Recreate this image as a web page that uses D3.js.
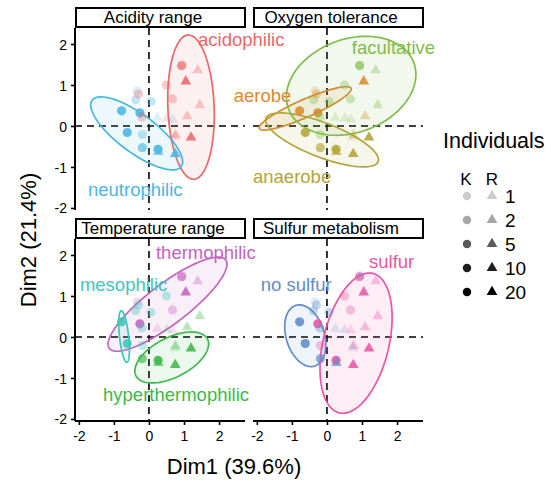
<!DOCTYPE html>
<html>
<head>
<meta charset="utf-8">
<script src="https://cdn.jsdelivr.net/npm/d3@7"></script>
<style>
  body { margin: 0; background: #fff; }
  svg { font-family: "Liberation Sans", Arial, Helvetica, sans-serif; }
</style>
</head>
<body>
<svg id="chart" width="551" height="483"></svg>
<script>
// species coordinates on the first two PCA dimensions
var dim1 = [0.93, 1.39, 1.05, 0.50, 0.67, 1.45, 1.09, 0.24, 0.51, 0.68, 0.76, 0.74, 1.20, 0.75,
  0.26, 0.27, -0.19, -0.19, -0.62, -0.78, -0.26, -0.20, 0.06, -0.38, -0.34, -0.30, 0.95];
var dim2 = [1.47, 1.36, 1.09, 1.00, 0.66, 0.51, 0.24, 0.20, 0.18, 0.16, -0.22, -0.27, -0.28, -0.68,
  -0.57, -0.63, -0.53, -0.21, -0.16, 0.37, 0.32, 0.22, 0.60, 0.64, 0.86, 0.78, 1.50];
var strategy = ['K', 'R', 'R', 'K', 'K', 'R', 'R', 'R', 'R', 'R', 'R', 'R', 'R', 'R',
  'K', 'R', 'K', 'K', 'K', 'K', 'K', 'K', 'K', 'K', 'K', 'K', 'K'];
var individuals = [5, 2, 10, 2, 2, 2, 2, 1, 1, 1, 2, 1, 10, 10, 10, 5, 5, 2, 10, 10, 10, 2, 2, 2, 1, 2, 1];

// group of each species in every facet
var acidity = ['acidophilic', 'acidophilic', 'acidophilic', 'acidophilic', 'acidophilic', 'acidophilic',
  'acidophilic', 'neutrophilic', 'acidophilic', 'neutrophilic', 'acidophilic', 'acidophilic', 'acidophilic',
  'neutrophilic', 'neutrophilic', 'neutrophilic', 'neutrophilic', 'neutrophilic', 'neutrophilic',
  'neutrophilic', 'neutrophilic', 'acidophilic', 'neutrophilic', 'neutrophilic', 'neutrophilic',
  'acidophilic', 'acidophilic'];
var oxygen = ['facultative', 'facultative', 'aerobe', 'facultative', 'facultative', 'facultative', 'aerobe',
  'facultative', 'facultative', 'facultative', 'anaerobe', 'anaerobe', 'anaerobe', 'anaerobe', 'anaerobe',
  'anaerobe', 'anaerobe', 'facultative', 'anaerobe', 'aerobe', 'aerobe', 'facultative', 'facultative',
  'facultative', 'aerobe', 'aerobe', 'facultative'];
var temperature = ['thermophilic', 'thermophilic', 'thermophilic', 'mesophilic', 'thermophilic',
  'hyperthermophilic', 'hyperthermophilic', 'thermophilic', 'hyperthermophilic', 'thermophilic',
  'hyperthermophilic', 'hyperthermophilic', 'hyperthermophilic', 'hyperthermophilic', 'hyperthermophilic',
  'hyperthermophilic', 'hyperthermophilic', 'mesophilic', 'mesophilic', 'mesophilic', 'thermophilic',
  'mesophilic', 'mesophilic', 'mesophilic', 'thermophilic', 'mesophilic', 'thermophilic'];
var sulfur = ['sulfur', 'sulfur', 'sulfur', 'sulfur', 'sulfur', 'sulfur', 'sulfur', 'no sulfur', 'no sulfur',
  'sulfur', 'sulfur', 'no sulfur', 'sulfur', 'sulfur', 'sulfur', 'no sulfur', 'no sulfur', 'sulfur',
  'no sulfur', 'no sulfur', 'sulfur', 'no sulfur', 'no sulfur', 'no sulfur', 'no sulfur', 'no sulfur',
  'no sulfur'];

var facetTitles = ['Acidity range', 'Oxygen tolerance', 'Temperature range', 'Sulfur metabolism'];

var groupNames = ['acidophilic', 'neutrophilic', 'aerobe', 'anaerobe', 'facultative',
  'thermophilic', 'mesophilic', 'hyperthermophilic', 'no sulfur', 'sulfur'];
var groupFacet = [0, 0, 1, 1, 1, 2, 2, 2, 3, 3];
var groupColors = ['#E8676B', '#4AB6E0', '#DA8A2E', '#B3A43A', '#80BC4A',
  '#C264BD', '#3FC6BA', '#3DB84A', '#5F8BCB', '#E955A5'];

// confidence ellipses: centre and two conjugate semi-axes, in Dim units
var ellipseCx = [1.20, -0.35, -0.62, -0.14, 0.69, 0.53, -0.71, 0.65, -0.62, 0.83];
var ellipseCy = [0.46, -0.18, 0.43, -0.34, 0.98, 0.80, 0.01, -0.50, 0.03, -0.15];
var ellipseUx = [0.08, 1.27, 1.31, 1.60, 1.79, 1.66, 0.08, 1.02, 0.27, -0.48];
var ellipseUy = [-1.76, -0.81, 0.49, -0.53, 0.56, 1.08, -0.63, 0.45, -0.74, -1.70];
var ellipseVx = [0.66, -0.33, 0.10, -0.18, 0.46, 0.35, -0.13, 0.26, -0.52, 0.91];
var ellipseVy = [0.02, -0.37, -0.20, -0.39, -1.07, -0.39, -0.01, -0.43, -0.14, -0.19];

// where each group name is written (left end of the text, in Dim units)
var labelX = [1.40, -1.74, -2.66, -2.11, 0.71, 0.20, -1.97, -1.31, -1.89, 1.20];
var labelY = [1.95, -1.71, 0.59, -1.39, 1.76, 1.90, 1.12, -1.56, 1.12, 1.68];

var xTicks = [-2, -1, 0, 1, 2];
var yTicks = [-2, -1, 0, 1, 2];
var legendLevels = [1, 2, 5, 10, 20];
var legendShapes = ['K', 'R'];

var facetGroups = [acidity, oxygen, temperature, sulfur];

var svg = d3.select('#chart');

var panelLeft = 75, panelTop = 28,
  panelW = 170, panelH = 182,
  gapX = 8, gapY = 29;

var x = d3.scaleLinear().domain([-2.11, 2.74]).range([0, panelW]);
var y = d3.scaleLinear().domain([-2.05, 2.39]).range([panelH, 0]);
var alpha = d3.scaleOrdinal().domain(legendLevels).range([0.2, 0.35, 0.65, 0.88, 1]);
var color = d3.scaleOrdinal().domain(groupNames).range(groupColors);

var triangle = d3.symbol().type(d3.symbolTriangle).size(50);

var species = dim1.map(function(d, i) {
  return { x: d, y: dim2[i], strategy: strategy[i], n: individuals[i] };
});

var ellipseLine = d3.line()
  .x(function(d) { return x(d[0]); })
  .y(function(d) { return y(d[1]); })
  .curve(d3.curveLinearClosed);

function ellipsePoints(k) {
  var pts = [];
  for (var s = 0; s < 120; s++) {
    var t = s / 120 * 2 * Math.PI;
    pts.push([ellipseCx[k] + ellipseUx[k] * Math.cos(t) + ellipseVx[k] * Math.sin(t),
      ellipseCy[k] + ellipseUy[k] * Math.cos(t) + ellipseVy[k] * Math.sin(t)]);
  }
  return pts;
}

var panels = [];

facetTitles.forEach(function(title, f) {
  var col = f % 2, row = Math.floor(f / 2);
  var px = panelLeft + col * (panelW + gapX);
  var py = panelTop + row * (panelH + gapY);
  var g = svg.append('g').attr('transform', 'translate(' + px + ',' + py + ')');
  panels.push(g);

  // strip
  g.append('rect')
    .attr('x', 1).attr('y', -20)
    .attr('width', panelW - 1).attr('height', 19)
    .style('fill', '#fff').style('stroke', '#000').style('stroke-width', 2);
  g.append('text')
    .attr('x', panelW / 2 - 7).attr('y', -5)
    .style('text-anchor', 'middle')
    .style('font-size', '17px')
    .text(title);

  // reference lines through the origin
  g.append('line')
    .attr('x1', 0).attr('x2', panelW).attr('y1', y(0)).attr('y2', y(0))
    .style('stroke', '#000').style('stroke-width', 1.6).style('stroke-dasharray', '7,5');
  g.append('line')
    .attr('x1', x(0)).attr('x2', x(0)).attr('y1', 0).attr('y2', panelH)
    .style('stroke', '#000').style('stroke-width', 1.6).style('stroke-dasharray', '7,5');

  // ellipses
  groupNames.forEach(function(name, k) {
    if (groupFacet[k] !== f) return;
    g.append('path')
      .attr('d', ellipseLine(ellipsePoints(k)))
      .style('fill', groupColors[k]).style('fill-opacity', 0.1)
      .style('stroke', groupColors[k]).style('stroke-width', 1.7);
  });

  // species
  var groupOf = facetGroups[f];
  g.selectAll('.pt')
    .data(species)
    .enter()
    .append('path')
    .attr('class', 'pt')
    .attr('transform', function(d) { return 'translate(' + x(d.x) + ',' + y(d.y) + ')'; })
    .attr('d', function(d) {
      return d.strategy === 'K' ? d3.symbol().type(d3.symbolCircle).size(66)() : triangle();
    })
    .style('fill', function(d, i) { return color(groupOf[i]); })
    .style('fill-opacity', function(d) { return alpha(d.n); });

  // axes: y on left column, x on bottom row
  if (col === 0) {
    var ya = g.append('g')
      .call(d3.axisLeft(y).tickValues(yTicks).tickSize(4).tickSizeOuter(0).tickPadding(4)
        .tickFormat(function(d) { return String(d); }));
    ya.select('.domain').attr('d', 'M0,0V' + panelH).style('stroke-width', 2);
    ya.selectAll('.tick line').style('stroke-width', 1.6);
    ya.selectAll('.tick text').style('font-size', '14px').style('font-family', 'inherit').attr('dy', '0.36em');
  }
  if (row === 1) {
    var xa = g.append('g')
      .attr('transform', 'translate(0,' + panelH + ')')
      .call(d3.axisBottom(x).tickValues(xTicks).tickSize(4).tickSizeOuter(0).tickPadding(6)
        .tickFormat(function(d) { return String(d); }));
    xa.select('.domain').attr('d', 'M0,0H' + panelW).style('stroke-width', 2);
    xa.selectAll('.tick line').style('stroke-width', 1.6);
    xa.selectAll('.tick text').style('font-size', '14px').style('font-family', 'inherit');
  }
});

// group names
groupNames.forEach(function(name, k) {
  panels[groupFacet[k]].append('text')
    .attr('x', x(labelX[k])).attr('y', y(labelY[k]))
    .style('fill', groupColors[k])
    .style('font-size', '18.5px')
    .text(name);
});

// axis titles
svg.append('text')
  .attr('x', 234).attr('y', 474)
  .style('text-anchor', 'middle')
  .style('font-size', '22px')
  .text('Dim1 (39.6%)');

svg.append('text')
  .attr('transform', 'translate(36,240) rotate(-90)')
  .style('text-anchor', 'middle')
  .style('font-size', '22px')
  .text('Dim2 (21.4%)');

// legend
var legend = svg.append('g').attr('transform', 'translate(443,0)');
legend.append('text')
  .attr('x', 0).attr('y', 148)
  .style('font-size', '21.5px')
  .text('Individuals');

legendShapes.forEach(function(s, j) {
  legend.append('text')
    .attr('x', 23 + j * 26).attr('y', 185)
    .style('text-anchor', 'middle')
    .style('font-size', '17px')
    .text(s);
});

legendLevels.forEach(function(n, r) {
  var ly = 196 + r * 24;
  legend.append('path')
    .attr('transform', 'translate(24,' + ly + ')')
    .attr('d', d3.symbol().type(d3.symbolCircle).size(56)())
    .style('fill', '#000').style('fill-opacity', alpha(n));
  legend.append('path')
    .attr('transform', 'translate(49,' + ly + ')')
    .attr('d', triangle())
    .style('fill', '#000').style('fill-opacity', alpha(n));
  legend.append('text')
    .attr('x', 62).attr('y', ly + 7)
    .style('font-size', '19px')
    .text(n);
});
</script>
</body>
</html>
